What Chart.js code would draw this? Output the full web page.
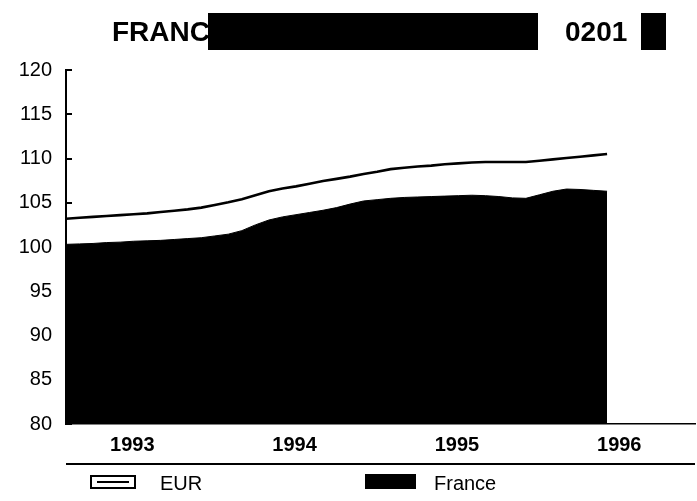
<!DOCTYPE html>
<html>
<head>
<meta charset="utf-8">
<script src="https://cdn.jsdelivr.net/npm/chart.js@4"></script>
<style>
  html, body { margin: 0; padding: 0; background: #fff; }
  #wrap { position: relative; width: 697px; height: 501px; overflow: hidden; font-family: "Liberation Sans", Arial, Helvetica, sans-serif; color: #000; }
  #c { position: absolute; left: 0; top: 0; }
  .abs { position: absolute; }
  .title { font-weight: bold; font-size: 28px; line-height: 1; }
  .blk { background: #000; }
  .legtxt { font-size: 20px; line-height: 1; }
</style>
</head>
<body>
<div id="wrap">
  <canvas id="c" width="697" height="501"></canvas>
  <div class="abs title" style="left:112px; top:18px;">FRANC</div>
  <div class="abs blk" style="left:208px; top:13px; width:330px; height:37px;"></div>
  <div class="abs title" style="left:565px; top:18px;">0201</div>
  <div class="abs blk" style="left:641px; top:13px; width:25px; height:37px;"></div>

  <div class="abs blk" style="left:66px; top:463px; width:629px; height:2px;"></div>

  <div class="abs" style="left:90px; top:475px; width:42px; height:10px; border:2px solid #000;">
    <div class="abs blk" style="left:5px; top:4px; width:32px; height:2px;"></div>
  </div>
  <div class="abs legtxt" style="left:160px; top:473px;">EUR</div>
  <div class="abs blk" style="left:365px; top:474px; width:51px; height:15px;"></div>
  <div class="abs legtxt" style="left:434px; top:473px;">France</div>
</div>
<script>
const months = [
  '1993-01','1993-02','1993-03','1993-04','1993-05','1993-06','1993-07','1993-08','1993-09','1993-10','1993-11','1993-12',
  '1994-01','1994-02','1994-03','1994-04','1994-05','1994-06','1994-07','1994-08','1994-09','1994-10','1994-11','1994-12',
  '1995-01','1995-02','1995-03','1995-04','1995-05','1995-06','1995-07','1995-08','1995-09','1995-10','1995-11','1995-12',
  '1996-01','1996-02','1996-03','1996-04','1996-05'
];
const eurValues = [
  103.2, 103.3, 103.4, 103.5, 103.6, 103.7, 103.8, 103.95, 104.1, 104.25, 104.45, 104.75,
  105.05, 105.4, 105.85, 106.3, 106.6, 106.85, 107.15, 107.45, 107.7, 107.95, 108.25, 108.5,
  108.8, 108.95, 109.1, 109.2, 109.35, 109.45, 109.55, 109.6, 109.6, 109.6, 109.6, 109.75,
  109.9, 110.05, 110.2, 110.35, 110.5
];
const franceValues = [
  100.3, 100.35, 100.4, 100.5, 100.55, 100.65, 100.7, 100.75, 100.85, 100.95, 101.05, 101.25,
  101.45, 101.85, 102.5, 103.05, 103.4, 103.65, 103.9, 104.15, 104.45, 104.85, 105.2, 105.35,
  105.5, 105.6, 105.65, 105.7, 105.75, 105.8, 105.85, 105.8, 105.7, 105.55, 105.5, 105.9,
  106.3, 106.55, 106.5, 106.4, 106.3
];
const yearLabels = ['1993', '1994', '1995', '1996'];
const yearTickPositions = [4.9, 16.9, 28.9, 40.9];
const yMin = 80, yMax = 120, yStep = 5;
const xMin = 0, xMax = 46.5;

const FONT = '"Liberation Sans", Arial, Helvetica, sans-serif';

const inwardTicks = {
  id: 'inwardTicks',
  beforeDatasetsDraw(chart) {
    const y = chart.scales.y;
    const ctx = chart.ctx;
    const left = chart.chartArea.left;
    ctx.save();
    ctx.strokeStyle = '#000';
    ctx.lineWidth = 2;
    y.ticks.forEach(t => {
      const py = Math.round(y.getPixelForValue(t.value));
      ctx.beginPath();
      ctx.moveTo(left, py);
      ctx.lineTo(left + 6, py);
      ctx.stroke();
    });
    ctx.restore();
  }
};

new Chart(document.getElementById('c'), {
  type: 'line',
  data: {
    datasets: [
      {
        label: 'EUR',
        data: months.map((m, i) => ({ x: i, y: eurValues[i] })),
        borderColor: '#000',
        borderWidth: 2.6,
        backgroundColor: '#fff',
        fill: false,
        pointRadius: 0,
        tension: 0,
        order: 0
      },
      {
        label: 'France',
        data: months.map((m, i) => ({ x: i, y: franceValues[i] })),
        borderColor: '#000',
        borderWidth: 1,
        backgroundColor: '#000',
        fill: 'start',
        pointRadius: 0,
        tension: 0,
        order: 1
      }
    ]
  },
  options: {
    responsive: false,
    animation: false,
    devicePixelRatio: 1,
    layout: { padding: { top: 70, right: 2, left: 0, bottom: 0 } },
    plugins: { legend: { display: false }, tooltip: { enabled: false } },
    scales: {
      x: {
        type: 'linear',
        min: xMin,
        max: xMax,
        afterFit(s) { s.height = 77; },
        afterBuildTicks(s) { s.ticks = yearTickPositions.map(v => ({ value: v })); },
        ticks: {
          autoSkip: false,
          maxRotation: 0,
          padding: 9,
          color: '#000',
          font: { family: FONT, size: 20, weight: 'bold' },
          callback(v, idx) { return yearLabels[idx]; }
        },
        grid: { display: true, drawOnChartArea: false, drawTicks: false },
        border: { display: true, color: '#000', width: 1.5 }
      },
      y: {
        min: yMin,
        max: yMax,
        afterFit(s) { s.width = 66; },
        ticks: {
          stepSize: yStep,
          padding: 14,
          color: '#000',
          font: { family: FONT, size: 20 }
        },
        grid: { display: true, drawOnChartArea: false, drawTicks: false },
        border: { display: true, color: '#000', width: 2 }
      }
    }
  },
  plugins: [inwardTicks]
});
</script>
</body>
</html>
